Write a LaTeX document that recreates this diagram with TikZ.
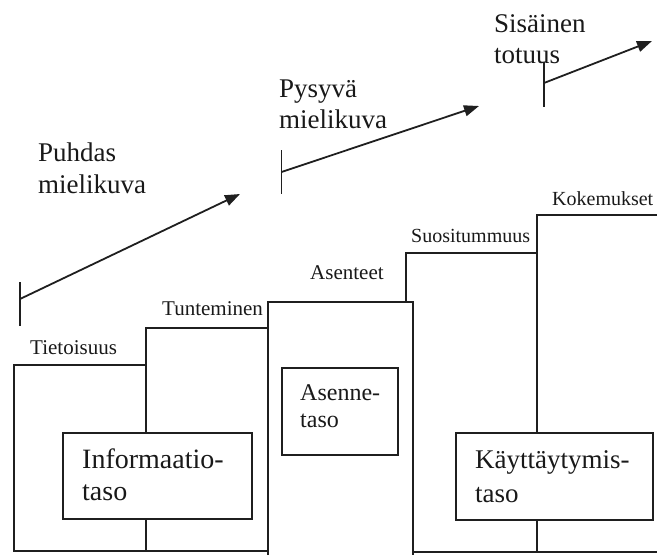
\documentclass[tikz,border=0pt]{standalone}
\usepackage{fontspec}
\setmainfont{Liberation Serif}
\usetikzlibrary{arrows.meta}
\tikzset{
  ln/.style={line width=1.8pt, draw=black!88, line cap=rect},
  boxn/.style={draw=black!88, line width=1.8pt, inner sep=0pt, fill=white},
  bigtxt/.style={inner sep=0pt, anchor=base west, font=\fontsize{27}{32}\selectfont, text=black!90},
  boxtxt/.style={inner sep=0pt, anchor=base west, font=\fontsize{28}{32}\selectfont, text=black!90},
  smalltxt/.style={inner sep=0pt, anchor=base west, font=\fontsize{21}{24}\selectfont, text=black!90},
  arr/.style={line width=1.8pt, draw=black!88, -{Triangle[length=15pt,width=11pt]}},
  tick/.style={line width=1.8pt, draw=black!88},
}
\begin{document}
\begin{tikzpicture}[x=1pt,y=-1pt]
\useasboundingbox (0,0) rectangle (657,555);
\begin{scope}
\clip (0,0) rectangle (657,555);
% step outline
\draw[ln] (268,551) -- (14,551) -- (14,365) -- (146,365) -- (146,328) -- (268,328);
\draw[ln] (268,560) -- (268,302) -- (413,302) -- (413,560);
\draw[ln] (406,302) -- (406,253) -- (537,253);
\draw[ln] (537,552) -- (537,215) -- (665,215);
\draw[ln] (413,552) -- (665,552);
\draw[ln] (146,365) -- (146,551);
% boxes
\node[boxn, minimum width=189pt, minimum height=86pt] (info) at (157.5,476) {};
\node[boxn, minimum width=116pt, minimum height=87pt] (asen) at (340,411.5) {};
\node[boxn, minimum width=197pt, minimum height=87pt] (kayt) at (554.5,476.5) {};
\node[boxtxt] (info1) at (82,468) {Informaatio-};
\node[boxtxt] (info2) at (82,500) {taso};
\node[boxtxt, font=\fontsize{24}{27}\selectfont] (asen1) at (300,400) {Asenne-};
\node[boxtxt, font=\fontsize{24}{27}\selectfont] (asen2) at (300,427) {taso};
\node[boxtxt, font=\fontsize{27}{32}\selectfont] (kayt1) at (475,468) {Käyttäytymis-};
\node[boxtxt, font=\fontsize{27}{32}\selectfont] (kayt2) at (475,502) {taso};
% small labels
\node[smalltxt] (l1) at (30,354) {Tietoisuus};
\node[smalltxt] (l2) at (162,315) {Tunteminen};
\node[smalltxt] (l3) at (310,279) {Asenteet};
\node[smalltxt, font=\fontsize{20}{24}\selectfont] (l4) at (411,242) {Suositummuus};
\node[smalltxt, font=\fontsize{20}{24}\selectfont] (l5) at (552,205) {Kokemukset};
% big labels
\node[bigtxt] (p1) at (38,161) {Puhdas};
\node[bigtxt] (p2) at (38,193) {mielikuva};
\node[bigtxt] (q1) at (279,97) {Pysyvä};
\node[bigtxt] (q2) at (279,128) {mielikuva};
\node[bigtxt] (s1) at (494,32) {Sisäinen};
\node[bigtxt] (s2) at (494,63) {totuus};
% arrows
\coordinate (t1a) at (20,282); \coordinate (t1b) at (20,326);
\coordinate (a1s) at (20,299); \coordinate (a1e) at (240,194);
\coordinate (t2a) at (281.5,150); \coordinate (t2b) at (281.5,194);
\coordinate (a2s) at (281.5,172); \coordinate (a2e) at (479,106);
\coordinate (t3a) at (544,62); \coordinate (t3b) at (544,107);
\coordinate (a3s) at (544,83); \coordinate (a3e) at (652,41);
\draw[tick] (t1a) -- (t1b);
\draw[arr] (a1s) -- (a1e);
\draw[tick] (t2a) -- (t2b);
\draw[arr] (a2s) -- (a2e);
\draw[tick] (t3a) -- (t3b);
\draw[arr] (a3s) -- (a3e);
\end{scope}
\end{tikzpicture}
\end{document}
